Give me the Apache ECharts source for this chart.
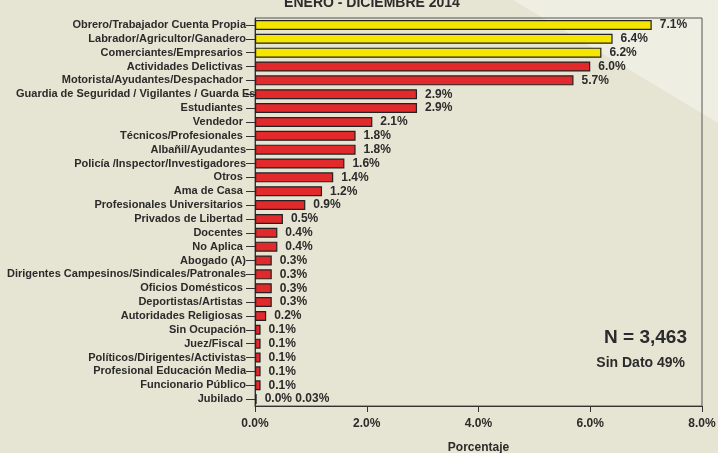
<!DOCTYPE html>
<html>
<head>
<meta charset="utf-8">
<script src="https://cdn.jsdelivr.net/npm/echarts@6/dist/echarts.min.js"></script>
<style>
  html, body { margin: 0; padding: 0; background: #E6E4D2; }
  #chart { width: 718px; height: 453px; }
</style>
</head>
<body>
<div id="chart"></div>
<script>
// Ocupación de las víctimas, enero - diciembre 2014 (porcentajes)
const categories = [
  'Obrero/Trabajador Cuenta Propia',
  'Labrador/Agricultor/Ganadero',
  'Comerciantes/Empresarios ',
  'Actividades Delictivas ',
  'Motorista/Ayudantes/Despachador ',
  'Guardia de Seguridad / Vigilantes / Guarda Es',
  'Estudiantes ',
  'Vendedor ',
  'Técnicos/Profesionales ',
  'Albañil/Ayudantes',
  'Policía /Inspector/Investigadores',
  'Otros ',
  'Ama de Casa ',
  'Profesionales Universitarios ',
  'Privados de Libertad ',
  'Docentes ',
  'No Aplica ',
  'Abogado (A)',
  'Dirigentes Campesinos/Sindicales/Patronales',
  'Oficios Domésticos ',
  'Deportistas/Artistas ',
  'Autoridades Religiosas ',
  'Sin Ocupación',
  'Juez/Fiscal ',
  'Políticos/Dirigentes/Activistas',
  'Profesional Educación Media',
  'Funcionario Público',
  'Jubilado '
];
const values = [7.1, 6.4, 6.2, 6.0, 5.7, 2.9, 2.9, 2.1, 1.8, 1.8, 1.6, 1.4, 1.2, 0.9, 0.5,
                0.4, 0.4, 0.3, 0.3, 0.3, 0.3, 0.2, 0.1, 0.1, 0.1, 0.1, 0.1, 0.03];
const valueLabels = ['7.1%', '6.4%', '6.2%', '6.0%', '5.7%', '2.9%', '2.9%', '2.1%', '1.8%', '1.8%',
                     '1.6%', '1.4%', '1.2%', '0.9%', '0.5%', '0.4%', '0.4%', '0.3%', '0.3%', '0.3%',
                     '0.3%', '0.2%', '0.1%', '0.1%', '0.1%', '0.1%', '0.1%', '0.0% 0.03%'];
const highlightCount = 3;          // first groups drawn in yellow
const xTicks = [0, 2, 4, 6, 8];

const FONT = '"Liberation Sans", Arial, sans-serif';
const TEXT = '#2b2b2b';
const YELLOW = '#F4E600';
const RED = '#E2292B';
const LABEL_FONT_SIZE = 11;
const LABEL_MARGIN = 9;

// The long "Guardia..." label runs past the tick up to the axis line.
const measureCtx = document.createElement('canvas').getContext('2d');
measureCtx.font = 'bold ' + LABEL_FONT_SIZE + 'px ' + FONT;
const overrunLabel = categories[5];
const overrunWidth = Math.round(measureCtx.measureText(overrunLabel).width) - LABEL_MARGIN;

const chart = echarts.init(document.getElementById('chart'), null, { renderer: 'canvas' });

chart.setOption({
  backgroundColor: '#E6E4D2',
  animation: false,
  title: {
    text: 'ENERO - DICIEMBRE 2014',
    left: 367, top: -9, textAlign: 'center',
    textStyle: { fontFamily: FONT, fontWeight: 'bold', fontSize: 14, color: TEXT }
  },
  graphic: [
    { type: 'polygon', z: -10, silent: true,
      shape: { points: [[513, 0], [718, 0], [718, 123]] },
      style: { fill: '#EFEEE3' } },
    { type: 'text', x: 687, y: 338, z: 10,
      style: { text: 'N = 3,463', align: 'right', verticalAlign: 'middle',
               font: 'bold 19px ' + FONT, fill: TEXT } },
    { type: 'text', x: 685, y: 363, z: 10,
      style: { text: 'Sin Dato 49%', align: 'right', verticalAlign: 'middle',
               font: 'bold 14px ' + FONT, fill: TEXT } }
  ],
  grid: {
    left: 255, right: 16, top: 18, bottom: 47,
    outerBoundsMode: 'none',
    show: true, borderColor: '#555', borderWidth: 1, backgroundColor: 'transparent',
    containLabel: false
  },
  xAxis: {
    type: 'value', min: xTicks[0], max: xTicks[xTicks.length - 1], interval: 2,
    name: 'Porcentaje', nameLocation: 'middle', nameGap: 36,
    nameTextStyle: { fontFamily: FONT, fontWeight: 'bold', fontSize: 12, color: TEXT },
    axisLine: { show: true, lineStyle: { color: '#333', width: 1 } },
    axisTick: { show: true, length: 6, lineStyle: { color: '#333' } },
    splitLine: { show: false },
    axisLabel: {
      margin: 12, fontFamily: FONT, fontWeight: 'bold', fontSize: 12, color: TEXT,
      formatter: v => v.toFixed(1) + '%'
    }
  },
  yAxis: {
    type: 'category', data: categories, inverse: true,
    axisLine: { show: true, lineStyle: { color: '#333', width: 1 } },
    axisTick: { show: true, alignWithLabel: true, length: 9, lineStyle: { color: '#333' } },
    axisLabel: {
      margin: LABEL_MARGIN, interval: 0, fontFamily: FONT, fontWeight: 'bold',
      fontSize: LABEL_FONT_SIZE, color: TEXT,
      formatter: v => v === overrunLabel ? '{o|' + v + '}' : v,
      rich: {
        o: { width: overrunWidth, align: 'left', fontFamily: FONT, fontWeight: 'bold',
             fontSize: LABEL_FONT_SIZE, color: TEXT }
      }
    }
  },
  series: [{
    type: 'bar',
    data: values.map((v, i) => ({
      value: v,
      itemStyle: { color: i < highlightCount ? YELLOW : RED }
    })),
    barWidth: 10,
    itemStyle: { borderColor: '#222', borderWidth: 1.2 },
    label: {
      show: true, position: 'right', distance: 8,
      fontFamily: FONT, fontWeight: 'bold', fontSize: 12, color: TEXT,
      formatter: p => valueLabels[p.dataIndex]
    }
  }]
});
</script>
</body>
</html>
